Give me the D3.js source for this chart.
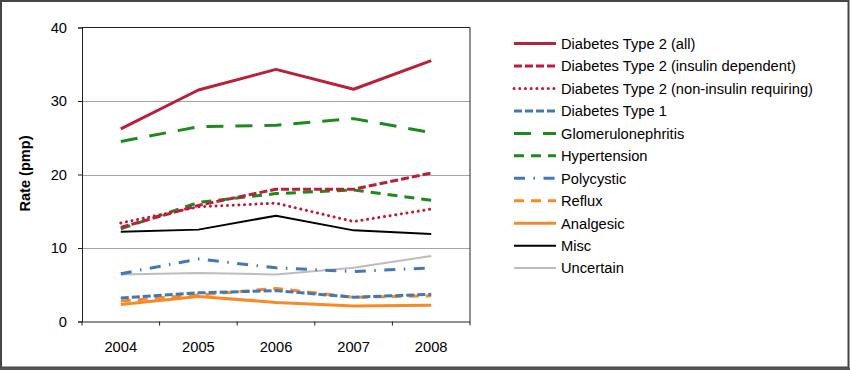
<!DOCTYPE html>
<html><head><meta charset="utf-8">
<script src="https://cdn.jsdelivr.net/npm/d3@7"></script>
<style>
html,body{margin:0;padding:0;background:#fff;}
svg{display:block;font-family:"Liberation Sans",Arial,sans-serif;}
</style></head>
<body><svg id="c" width="850" height="370"></svg>
<script>
const years = ["2004","2005","2006","2007","2008"];
const yTicks = [0,10,20,30,40];
const seriesNames = ["Diabetes Type 2 (all)","Diabetes Type 2 (insulin dependent)","Diabetes Type 2 (non-insulin requiring)","Diabetes Type 1","Glomerulonephritis","Hypertension","Polycystic","Reflux","Analgesic","Misc","Uncertain"];
const t2All        = [26.2, 31.5, 34.3, 31.6, 35.5];
const t2Insulin    = [12.8, 15.8, 18.0, 18.0, 20.2];
const t2NonInsulin = [13.4, 15.6, 16.1, 13.6, 15.3];
const type1        = [3.2, 3.9, 4.2, 3.3, 3.7];
const glomerulo    = [24.5, 26.5, 26.7, 27.6, 25.7];
const hypertension = [12.6, 16.2, 17.4, 17.9, 16.5];
const polycystic   = [6.5, 8.5, 7.3, 6.8, 7.3];
const reflux       = [2.8, 3.6, 4.5, 3.3, 3.5];
const analgesic    = [2.3, 3.4, 2.6, 2.1, 2.2];
const misc         = [12.2, 12.5, 14.4, 12.4, 11.9];
const uncertain    = [6.4, 6.6, 6.4, 7.3, 8.9];

const values = [t2All,t2Insulin,t2NonInsulin,type1,glomerulo,hypertension,polycystic,reflux,analgesic,misc,uncertain];
const RED="#BA2039", GREEN="#1E8A1E", BLUE="#4279B5", ORANGE="#F58A2A";
const styles = [
  {c:RED, w:3, d:null},
  {c:RED, w:3, d:"8,3"},
  {c:RED, w:3, d:"0.1,5.6", cap:"round"},
  {c:BLUE, w:3, d:"8,3"},
  {c:GREEN, w:3, d:"17,12"},
  {c:GREEN, w:3, d:"10,7"},
  {c:BLUE, w:3, d:"11,8.5,1.5,8.5"},
  {c:ORANGE, w:3, d:"10,7"},
  {c:ORANGE, w:3, d:null},
  {c:"#000", w:2, d:null},
  {c:"#BDBDBD", w:2, d:null}
];
const FS = 14.7;
const FF = "Liberation Sans, Arial, sans-serif";

const svg = d3.select("#c");
// outer frame
svg.append("rect").attr("x",1).attr("y",1).attr("width",847.5).attr("height",366.5)
  .attr("fill","none").attr("stroke","#454545").attr("stroke-width",2);
svg.append("rect").attr("x",0).attr("y",367.5).attr("width",850).attr("height",2.5).attr("fill","#555");

const L=82, R=470, T=27.5, B=321.5;
const x = d3.scaleBand().domain(years).range([L,R]);
const y = d3.scaleLinear().domain([0,40]).range([B,T]);

// gridlines
svg.append("g").selectAll("line").data(yTicks.filter(v=>v>0&&v<40)).join("line")
  .attr("x1",L).attr("x2",R).attr("y1",d=>Math.round(y(d))+0.5).attr("y2",d=>Math.round(y(d))+0.5)
  .attr("stroke","#A6A6A6").attr("stroke-width",1);

// plot border top/right
svg.append("line").attr("x1",L).attr("x2",R).attr("y1",T).attr("y2",T).attr("stroke","#222").attr("stroke-width",1);
svg.append("line").attr("x1",R).attr("x2",R).attr("y1",T).attr("y2",B).attr("stroke","#222").attr("stroke-width",1);

// y axis
const yAx = svg.append("g").attr("transform",`translate(${L},0)`)
  .call(d3.axisLeft(y).tickValues(yTicks).tickSize(4).tickPadding(11));
yAx.select(".domain").attr("stroke","#222");
yAx.selectAll(".tick line").attr("stroke","#222");
yAx.selectAll("text").attr("font-size",FS).attr("fill","#000").attr("font-family",FF);

// x axis
const xAx = svg.append("g").attr("transform",`translate(0,${B})`)
  .call(d3.axisBottom(x).tickSize(0).tickPadding(20));
xAx.select(".domain").attr("stroke","#222");
xAx.selectAll("text").attr("font-size",FS).attr("fill","#000").attr("font-family",FF);
// tick marks at band boundaries
const bounds = years.map(d=>x(d)).concat([x(years[years.length-1])+x.bandwidth()]);
xAx.selectAll(".bt").data(bounds).join("line").attr("class","bt")
  .attr("x1",d=>d).attr("x2",d=>d).attr("y1",0).attr("y2",4).attr("stroke","#222");

// y title
svg.append("text").attr("transform",`translate(30,${(T+B)/2 - 1}) rotate(-90)`)
  .attr("text-anchor","middle").attr("font-size",14.6).attr("font-weight","bold").text("Rate (pmp)");

// lines
const line = d3.line().x((d,i)=>x(years[i])+x.bandwidth()/2).y(d=>y(d));
const drawOrder = [10,9,8,7,6,3,5,4,2,1,0];
drawOrder.forEach(i=>{
  const s=styles[i];
  svg.append("path").datum(values[i]).attr("d",line).attr("fill","none")
    .attr("stroke",s.c).attr("stroke-width",s.w)
    .attr("stroke-dasharray",s.d).attr("stroke-linecap",s.cap||"butt").attr("stroke-linejoin","round");
});

// legend
const lg = svg.append("g");
seriesNames.forEach((n,i)=>{
  const yy = 43.6 + i*22.45;
  const s = styles[i];
  lg.append("line").attr("x1",514).attr("x2",556).attr("y1",yy).attr("y2",yy)
    .attr("stroke",s.c).attr("stroke-width",s.w).attr("stroke-dasharray",s.d).attr("stroke-linecap",s.cap||"butt");
  lg.append("text").attr("x",561).attr("y",yy+5.3).attr("font-size",FS).attr("fill","#000").text(n);
});
</script></body></html>
